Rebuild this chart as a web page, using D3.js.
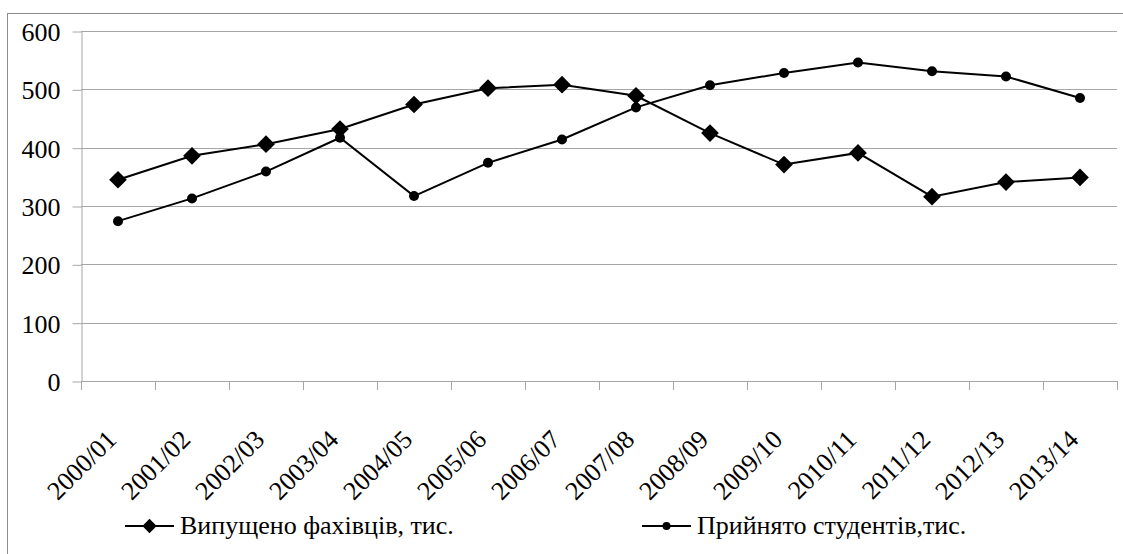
<!DOCTYPE html>
<html>
<head>
<meta charset="utf-8">
<script src="https://cdn.jsdelivr.net/npm/d3@7"></script>
<style>
    svg text { font-family: "Liberation Serif" !important; fill: #000; }
    .tick-label, .legend-label, .y-label { font-size: 26px !important; }
</style>
</head>
<body style="margin:0">
<svg id="canvas" width="1123" height="554"></svg>
<script>
// data
const years = ["2000/01", "2001/02", "2002/03", "2003/04", "2004/05", "2005/06", "2006/07",
    "2007/08", "2008/09", "2009/10", "2010/11", "2011/12", "2012/13", "2013/14"];
const graduated = [345, 386, 406, 432, 474, 502, 508, 489, 425, 371, 391, 316, 341, 349];
const admitted = [274, 313, 359, 417, 317, 374, 414, 469, 507, 528, 546, 531, 522, 485];
const yTicks = [0, 100, 200, 300, 400, 500, 600];
const seriesNames = ["Випущено фахівців, тис.", "Прийнято студентів,тис."];

const GREY = "#a6a6a6";

const svg = d3.select("#canvas");
const plot = {left: 81, right: 1117, top: 31, bottom: 381};

// outer frame
svg.append("rect")
    .attr("x", 7.5).attr("y", 13.5)
    .attr("width", 1130).attr("height", 560)
    .attr("fill", "none").attr("stroke", "#8c8c8c");

const x = d3.scaleBand().domain(years).range([plot.left, plot.right]);
const y = d3.scaleLinear().domain([0, 600]).range([plot.bottom, plot.top]);

// horizontal gridlines
svg.append("g")
    .selectAll("line")
    .data(yTicks.filter(d => d > 0))
    .enter().append("line")
    .attr("x1", plot.left).attr("x2", plot.right)
    .attr("y1", d => Math.round(y(d)) + 0.5).attr("y2", d => Math.round(y(d)) + 0.5)
    .attr("stroke", GREY);

// y axis
const yAxis = svg.append("g")
    .attr("transform", `translate(${plot.left + 0.5},0.5)`)
    .call(d3.axisLeft(y).tickValues(yTicks).tickSize(9).tickSizeOuter(0).tickPadding(12))
    .attr("font-family", "Liberation Serif").attr("font-size", 26);
yAxis.selectAll("path, line").attr("stroke", GREY);
yAxis.selectAll("text").attr("class", "y-label").attr("dy", "0.35em");

// x axis with ticks at category boundaries
const bounds = years.map(d => x(d)).concat([plot.right]);
const xg = svg.append("g").attr("font-family", "Liberation Serif").attr("font-size", 26);
xg.append("line")
    .attr("x1", plot.left).attr("x2", plot.right)
    .attr("y1", plot.bottom + 0.5).attr("y2", plot.bottom + 0.5)
    .attr("stroke", GREY);
xg.selectAll(".tick")
    .data(bounds)
    .enter().append("line")
    .attr("x1", d => Math.round(d) + 0.5).attr("x2", d => Math.round(d) + 0.5)
    .attr("y1", plot.bottom).attr("y2", plot.bottom + 9)
    .attr("stroke", GREY);
xg.selectAll("text")
    .data(years)
    .enter().append("text")
    .attr("class", "tick-label")
    .attr("text-anchor", "end")
    .attr("transform", d => `translate(${x(d) + x.bandwidth() / 2},${plot.bottom + 60}) rotate(-45)`)
    .text(d => d);

const cx = d => x(d) + x.bandwidth() / 2;
const line = d3.line().x((v, i) => cx(years[i])).y(v => y(v));
const diamond = d3.symbol().type(d3.symbolDiamond2).size(200);

// series: graduates (diamonds)
svg.append("path").datum(graduated)
    .attr("d", line).attr("fill", "none").attr("stroke", "#000").attr("stroke-width", 2);
svg.append("g").selectAll("path")
    .data(graduated)
    .enter().append("path")
    .attr("d", diamond)
    .attr("transform", (v, i) => `translate(${cx(years[i])},${y(v)})`)
    .attr("fill", "#000");

// series: admitted (circles)
svg.append("path").datum(admitted)
    .attr("d", line).attr("fill", "none").attr("stroke", "#000").attr("stroke-width", 2);
svg.append("g").selectAll("circle")
    .data(admitted)
    .enter().append("circle")
    .attr("cx", (v, i) => cx(years[i])).attr("cy", v => y(v))
    .attr("r", 5).attr("fill", "#000");

// legend
const legend = svg.append("g").attr("font-family", "Liberation Serif").attr("font-size", 26);
const legendX = [125, 642];
const legendY = 526;
legendX.forEach((lx, i) => {
    legend.append("line")
        .attr("x1", lx).attr("x2", lx + 49)
        .attr("y1", legendY).attr("y2", legendY)
        .attr("stroke", "#000").attr("stroke-width", 2);
    if (i === 0) {
        legend.append("path")
            .attr("d", d3.symbol().type(d3.symbolDiamond2).size(130))
            .attr("transform", `translate(${lx + 24.5},${legendY})`)
            .attr("fill", "#000");
    } else {
        legend.append("circle")
            .attr("cx", lx + 24.5).attr("cy", legendY).attr("r", 4).attr("fill", "#000");
    }
    legend.append("text")
        .attr("class", "legend-label")
        .attr("x", lx + 55).attr("y", legendY + 8)
        .text(seriesNames[i]);
});
</script>
</body>
</html>
